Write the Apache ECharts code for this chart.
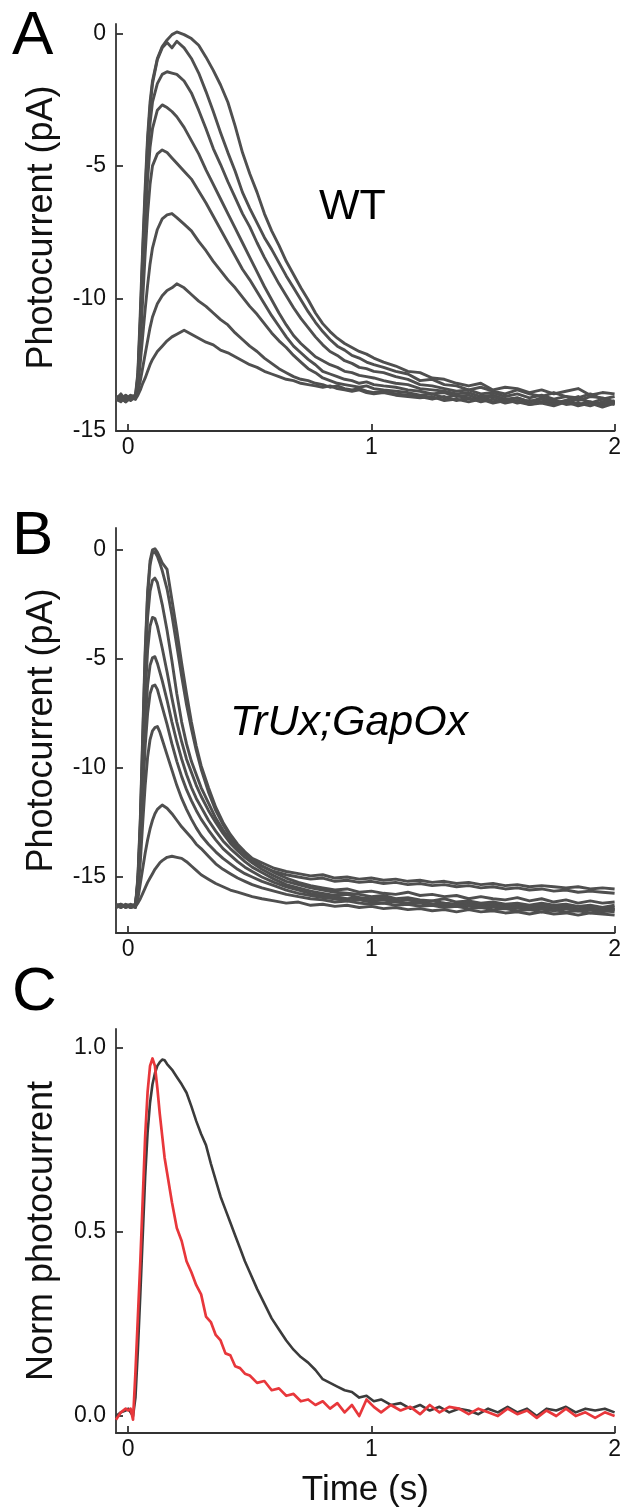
<!DOCTYPE html>
<html>
<head>
<meta charset="utf-8">
<script src="https://cdn.jsdelivr.net/npm/echarts@6/dist/echarts.min.js"></script>
<style>
  html, body { margin: 0; padding: 0; background: #fff; }
  #chart { width: 624px; height: 1510px; }
</style>
</head>
<body>
<div id="chart"></div>
<script>
// ---- panel A: WT photocurrents (pA) ----
const timeA = [-0.05,-0.03,-0.01,0.01,0.03,0.04,0.05,0.06,0.07,0.08,0.09,0.10,0.12,0.14,0.16,0.18,0.20,
  0.23,0.26,0.29,0.32,0.35,0.38,0.41,0.44,0.47,0.50,0.53,0.56,0.59,0.62,0.65,0.68,0.71,0.74,0.77,0.80,0.83,0.86,0.89,0.92,0.95,0.98,1.01,
  1.05,1.10,1.15,1.20,1.25,1.30,1.35,1.40,1.45,1.50,1.55,1.60,1.65,1.70,1.75,1.80,1.85,1.90,1.95,2.00];
const wt1 = [-13.8,-13.6,-13.85,-13.7,-13.65,-12.8,-10.5,-8.0,-5.8,-3.9,-2.6,-1.8,-0.95,-0.5,-0.25,-0.05,0.05,
  -0.05,-0.2,-0.45,-0.9,-1.4,-1.95,-2.6,-3.5,-4.5,-5.3,-6.0,-6.8,-7.45,-8.0,-8.6,-9.1,-9.6,-10.05,-10.55,-10.95,-11.25,-11.5,-11.7,-11.85,-12.0,-12.1,-12.25,
  -12.4,-12.55,-12.75,-12.8,-13.0,-13.05,-13.2,-13.3,-13.2,-13.45,-13.35,-13.4,-13.55,-13.45,-13.6,-13.5,-13.4,-13.65,-13.55,-13.6];
const wt2 = [-13.7,-13.8,-13.65,-13.8,-13.7,-12.9,-10.8,-8.3,-6.1,-4.1,-2.8,-1.9,-1.0,-0.55,-0.35,-0.55,-0.3,
  -0.55,-0.95,-1.5,-2.2,-2.95,-3.75,-4.5,-5.2,-6.0,-6.6,-7.15,-7.7,-8.15,-8.65,-9.15,-9.6,-10.05,-10.5,-10.9,-11.25,-11.55,-11.8,-11.95,-12.15,-12.25,-12.4,-12.5,
  -12.6,-12.75,-12.85,-13.1,-13.05,-13.25,-13.3,-13.45,-13.35,-13.5,-13.6,-13.45,-13.6,-13.7,-13.55,-13.7,-13.75,-13.6,-13.8,-13.7];
const wt3 = [-13.75,-13.7,-13.8,-13.65,-13.75,-13.0,-11.0,-8.6,-6.5,-4.7,-3.4,-2.6,-1.9,-1.55,-1.45,-1.5,-1.55,
  -1.8,-2.25,-2.9,-3.6,-4.35,-4.95,-5.6,-6.2,-6.8,-7.3,-7.9,-8.45,-8.95,-9.45,-9.9,-10.35,-10.75,-11.1,-11.45,-11.75,-12.0,-12.15,-12.35,-12.45,-12.6,-12.65,-12.75,
  -12.8,-12.95,-13.05,-13.25,-13.3,-13.4,-13.5,-13.45,-13.6,-13.55,-13.7,-13.6,-13.75,-13.65,-13.8,-13.7,-13.85,-13.7,-13.75,-13.9];
const wt4 = [-13.8,-13.9,-13.7,-13.75,-13.8,-13.1,-11.3,-9.2,-7.2,-5.5,-4.3,-3.6,-2.9,-2.7,-2.8,-2.95,-3.15,
  -3.55,-4.05,-4.55,-5.15,-5.7,-6.25,-6.8,-7.35,-7.9,-8.45,-9.0,-9.55,-10.05,-10.55,-11.0,-11.4,-11.7,-11.95,-12.2,-12.35,-12.5,-12.6,-12.75,-12.8,-12.9,-12.95,-13.0,
  -13.1,-13.2,-13.25,-13.4,-13.45,-13.5,-13.6,-13.55,-13.7,-13.65,-13.8,-13.75,-13.9,-13.75,-13.85,-13.95,-13.8,-13.9,-14.0,-13.85];
const wt5 = [-13.7,-13.75,-13.9,-13.7,-13.75,-13.2,-11.8,-10.0,-8.3,-6.8,-5.7,-5.0,-4.55,-4.4,-4.5,-4.7,-4.9,
  -5.2,-5.5,-5.95,-6.4,-6.9,-7.4,-7.9,-8.4,-8.9,-9.3,-9.75,-10.2,-10.65,-11.05,-11.45,-11.8,-12.05,-12.3,-12.5,-12.75,-12.85,-12.95,-13.05,-13.1,-13.2,-13.15,-13.25,
  -13.3,-13.35,-13.45,-13.5,-13.6,-13.55,-13.7,-13.65,-13.8,-13.7,-13.85,-13.75,-13.9,-13.8,-13.95,-13.85,-13.7,-13.95,-13.8,-13.95];
const wt6 = [-13.85,-13.7,-13.75,-13.85,-13.7,-13.3,-12.4,-11.4,-10.4,-9.5,-8.7,-8.1,-7.4,-7.0,-6.85,-6.8,-6.95,
  -7.2,-7.45,-7.85,-8.2,-8.6,-8.95,-9.3,-9.6,-9.95,-10.3,-10.6,-10.95,-11.3,-11.6,-11.85,-12.15,-12.4,-12.65,-12.8,-13.0,-13.1,-13.2,-13.25,-13.3,-13.35,-13.3,-13.4,
  -13.45,-13.5,-13.55,-13.65,-13.6,-13.75,-13.65,-13.8,-13.75,-13.9,-13.8,-13.95,-13.85,-13.9,-14.0,-13.85,-14.0,-13.9,-14.05,-13.9];
const wt7 = [-13.7,-13.85,-13.7,-13.8,-13.75,-13.5,-13.1,-12.6,-12.1,-11.6,-11.1,-10.7,-10.2,-9.9,-9.7,-9.6,-9.45,
  -9.6,-9.85,-10.1,-10.3,-10.55,-10.8,-11.0,-11.3,-11.55,-11.8,-12.0,-12.25,-12.45,-12.65,-12.8,-12.95,-13.05,-13.1,-13.2,-13.25,-13.35,-13.3,-13.4,-13.45,-13.4,-13.5,-13.55,
  -13.5,-13.6,-13.65,-13.7,-13.8,-13.7,-13.85,-13.75,-13.9,-13.8,-13.95,-13.85,-14.0,-13.9,-13.85,-14.0,-13.95,-14.05,-13.9,-14.0];
const wt8 = [-13.8,-13.75,-13.9,-13.75,-13.8,-13.65,-13.45,-13.2,-13.0,-12.75,-12.5,-12.3,-12.0,-11.8,-11.6,-11.45,-11.35,
  -11.2,-11.35,-11.5,-11.65,-11.75,-11.95,-12.05,-12.2,-12.35,-12.5,-12.6,-12.75,-12.85,-12.95,-13.05,-13.1,-13.2,-13.25,-13.3,-13.35,-13.3,-13.4,-13.45,-13.5,-13.45,-13.55,-13.6,
  -13.55,-13.65,-13.7,-13.75,-13.7,-13.85,-13.8,-13.9,-13.8,-13.95,-13.85,-13.9,-14.0,-13.95,-14.05,-13.9,-14.05,-13.95,-14.1,-13.95];

// ---- panel B: TrUx;GapOx photocurrents (pA) ----
const timeB = [-0.05,-0.03,-0.01,0.01,0.03,0.04,0.05,0.06,0.07,0.08,0.09,0.10,0.11,0.12,0.13,0.14,
  0.16,0.18,0.20,0.22,0.24,0.26,0.28,0.30,0.33,0.36,0.39,0.42,0.45,0.48,0.51,
  0.55,0.60,0.65,0.70,0.75,0.80,0.85,0.90,0.95,1.00,
  1.05,1.10,1.15,1.20,1.25,1.30,1.35,1.40,1.45,1.50,1.55,1.60,1.65,1.70,1.75,1.80,1.85,1.90,1.95,2.00];
const tg1 = [-16.25,-16.35,-16.3,-16.4,-16.3,-15.0,-12.3,-8.4,-4.6,-1.9,-0.5,0.0,0.05,-0.1,-0.35,-0.6,
  -0.9,-2.3,-3.7,-5.2,-6.6,-7.9,-9.0,-9.9,-10.9,-11.8,-12.5,-13.05,-13.5,-13.85,-14.15,
  -14.35,-14.6,-14.75,-14.85,-14.95,-14.9,-15.05,-15.0,-15.1,-15.05,
  -15.15,-15.1,-15.2,-15.15,-15.25,-15.2,-15.3,-15.25,-15.35,-15.3,-15.4,-15.35,-15.45,-15.4,-15.45,-15.5,-15.45,-15.55,-15.5,-15.55];
const tg2 = [-16.35,-16.25,-16.4,-16.3,-16.35,-15.1,-12.5,-8.7,-4.9,-2.1,-0.7,-0.15,-0.1,-0.3,-0.6,-0.95,
  -1.8,-3.0,-4.4,-5.8,-7.1,-8.2,-9.2,-10.05,-11.1,-11.95,-12.6,-13.15,-13.6,-13.95,-14.25,
  -14.5,-14.75,-14.9,-15.0,-15.1,-15.05,-15.2,-15.15,-15.25,-15.2,
  -15.3,-15.25,-15.35,-15.3,-15.4,-15.35,-15.45,-15.4,-15.5,-15.45,-15.55,-15.5,-15.6,-15.55,-15.65,-15.6,-15.7,-15.65,-15.7,-15.75];
const tg3 = [-16.3,-16.4,-16.25,-16.35,-16.3,-15.2,-12.8,-9.2,-5.6,-3.1,-1.9,-1.4,-1.3,-1.5,-2.0,-2.5,
  -3.7,-5.1,-6.6,-7.9,-8.9,-9.7,-10.3,-10.9,-11.6,-12.3,-12.85,-13.3,-13.65,-13.95,-14.2,
  -14.5,-14.8,-15.05,-15.25,-15.4,-15.5,-15.6,-15.55,-15.7,-15.65,
  -15.75,-15.8,-15.7,-15.85,-15.8,-15.9,-15.85,-16.0,-15.9,-16.0,-16.05,-15.95,-16.1,-16.0,-16.15,-16.05,-16.2,-16.1,-16.2,-16.15];
const tg4 = [-16.4,-16.3,-16.35,-16.25,-16.4,-15.3,-13.0,-9.8,-6.7,-4.6,-3.5,-3.1,-3.15,-3.5,-4.0,-4.5,
  -5.6,-6.8,-7.9,-8.8,-9.6,-10.2,-10.8,-11.3,-11.95,-12.5,-13.0,-13.45,-13.8,-14.1,-14.35,
  -14.65,-14.95,-15.2,-15.35,-15.5,-15.6,-15.7,-15.75,-15.8,-15.9,
  -15.85,-16.0,-15.95,-16.05,-16.1,-16.0,-16.15,-16.1,-16.2,-16.15,-16.25,-16.2,-16.3,-16.2,-16.3,-16.25,-16.35,-16.3,-16.4,-16.3];
const tg5 = [-16.3,-16.25,-16.4,-16.3,-16.25,-15.4,-13.4,-10.6,-8.0,-6.2,-5.3,-4.95,-4.9,-5.2,-5.6,-6.0,
  -6.9,-7.9,-8.8,-9.6,-10.3,-10.9,-11.4,-11.8,-12.4,-12.9,-13.35,-13.7,-14.0,-14.3,-14.55,
  -14.8,-15.1,-15.35,-15.5,-15.65,-15.75,-15.85,-15.8,-15.95,-16.0,
  -15.95,-16.1,-16.05,-16.15,-16.1,-16.2,-16.25,-16.15,-16.3,-16.25,-16.35,-16.3,-16.4,-16.3,-16.4,-16.35,-16.45,-16.35,-16.45,-16.4];
const tg6 = [-16.35,-16.3,-16.3,-16.4,-16.3,-15.5,-13.8,-11.3,-9.0,-7.5,-6.6,-6.25,-6.2,-6.4,-6.8,-7.2,
  -8.0,-8.9,-9.7,-10.4,-11.0,-11.5,-11.95,-12.35,-12.85,-13.3,-13.7,-14.0,-14.3,-14.55,-14.75,
  -15.0,-15.25,-15.45,-15.6,-15.75,-15.85,-15.9,-16.0,-15.95,-16.1,
  -16.05,-16.15,-16.2,-16.1,-16.25,-16.2,-16.3,-16.25,-16.35,-16.3,-16.4,-16.35,-16.45,-16.4,-16.5,-16.4,-16.5,-16.45,-16.55,-16.45];
const tg7 = [-16.3,-16.4,-16.3,-16.3,-16.35,-15.6,-14.3,-12.5,-10.8,-9.5,-8.7,-8.3,-8.15,-8.1,-8.35,-8.7,
  -9.4,-10.1,-10.8,-11.4,-11.9,-12.35,-12.75,-13.1,-13.5,-13.85,-14.15,-14.4,-14.65,-14.85,-15.0,
  -15.2,-15.4,-15.6,-15.75,-15.85,-15.95,-16.0,-16.1,-16.05,-16.15,
  -16.2,-16.1,-16.25,-16.2,-16.3,-16.25,-16.35,-16.3,-16.4,-16.35,-16.45,-16.4,-16.5,-16.45,-16.55,-16.45,-16.55,-16.5,-16.6,-16.5];
const tg8 = [-16.4,-16.3,-16.35,-16.3,-16.4,-16.0,-15.3,-14.6,-13.9,-13.3,-12.8,-12.4,-12.1,-11.9,-11.8,-11.7,
  -11.85,-12.1,-12.4,-12.7,-12.95,-13.2,-13.5,-13.7,-14.05,-14.4,-14.65,-14.85,-15.05,-15.2,-15.35,
  -15.5,-15.65,-15.8,-15.9,-16.0,-16.05,-16.15,-16.1,-16.2,-16.25,
  -16.2,-16.3,-16.25,-16.35,-16.3,-16.4,-16.35,-16.45,-16.4,-16.5,-16.45,-16.55,-16.5,-16.6,-16.5,-16.6,-16.55,-16.65,-16.55,-16.6];
const tg9 = [-16.3,-16.35,-16.3,-16.4,-16.35,-16.2,-16.0,-15.75,-15.5,-15.25,-15.05,-14.85,-14.65,-14.5,-14.35,-14.25,
  -14.1,-14.05,-14.1,-14.15,-14.3,-14.5,-14.7,-14.9,-15.1,-15.3,-15.45,-15.6,-15.7,-15.8,-15.9,
  -16.0,-16.1,-16.2,-16.15,-16.3,-16.25,-16.35,-16.3,-16.4,-16.35,
  -16.45,-16.4,-16.5,-16.45,-16.55,-16.5,-16.6,-16.5,-16.6,-16.55,-16.65,-16.6,-16.7,-16.6,-16.7,-16.65,-16.75,-16.65,-16.7,-16.75];

// ---- panel C: normalised responses ----
const timeC = [-0.05,-0.03,-0.01,0.00,0.01,0.02,0.03,0.04,0.05,0.06,0.07,0.08,0.09,0.10,0.11,0.12,0.13,0.14,0.15,0.16,
  0.18,0.20,0.22,0.24,0.26,0.28,0.30,0.32,0.34,0.36,0.38,0.40,0.42,0.44,0.46,0.48,0.50,
  0.53,0.56,0.59,0.62,0.65,0.68,0.71,0.74,0.77,0.80,0.83,0.86,0.89,0.92,0.95,0.98,1.01,
  1.04,1.08,1.12,1.16,1.20,1.24,1.28,1.32,1.36,1.40,1.44,1.48,1.52,1.56,1.60,1.64,1.68,1.72,1.76,1.80,1.84,1.88,1.92,1.96,2.00];
const normWT = [0.0,0.01,0.015,0.02,0.01,0.0,0.05,0.18,0.33,0.49,0.65,0.77,0.85,0.9,0.93,0.95,0.96,0.967,0.965,0.955,
  0.94,0.92,0.9,0.877,0.84,0.8,0.765,0.735,0.685,0.64,0.595,0.56,0.525,0.49,0.455,0.42,0.39,
  0.345,0.305,0.265,0.235,0.205,0.18,0.16,0.145,0.125,0.1,0.09,0.08,0.07,0.065,0.05,0.055,0.04,
  0.045,0.03,0.035,0.02,0.03,0.015,0.025,0.01,0.02,0.015,0.005,0.02,0.01,0.025,0.01,0.02,0.0,0.02,0.015,0.025,0.01,0.02,0.015,0.02,0.01];
const normTrUx = [-0.01,0.01,0.02,0.015,0.02,-0.01,0.12,0.27,0.42,0.59,0.76,0.88,0.95,0.97,0.95,0.89,0.82,0.76,0.7,0.66,
  0.58,0.51,0.475,0.42,0.39,0.355,0.33,0.27,0.255,0.22,0.205,0.17,0.165,0.135,0.13,0.115,0.11,
  0.09,0.095,0.07,0.075,0.055,0.06,0.04,0.045,0.03,0.04,0.02,0.035,0.01,0.03,0.0,0.045,0.025,
  0.01,0.03,0.015,0.025,0.005,0.03,0.01,0.025,0.02,0.005,0.02,0.01,0.0,0.02,0.005,0.015,-0.005,0.015,0.0,0.02,0.0,0.01,-0.005,0.01,0.0];

// ---- ticks ----
const timeTicks = [0, 1, 2];
const pATicks = [-15, -10, -5, 0];
const normTicks = [0, 0.5, 1];

const FONT = '"Liberation Sans", Arial, sans-serif';
const AXIS = '#333';
const TRACE = '#4f4f4f';

function pairs(t, v) {
  return t.map((x, i) => [x, v[i]]);
}

function xAxisOf(idx, name) {
  return {
    type: 'value', gridIndex: idx, min: -0.05, max: 2,
    name: name || '', nameLocation: 'middle', nameGap: 40,
    nameTextStyle: { fontSize: 35, color: '#111', fontFamily: FONT },
    axisLine: { show: true, onZero: false, lineStyle: { color: AXIS, width: 1.8 } },
    axisTick: { show: true, inside: true, length: 7, customValues: timeTicks, lineStyle: { color: AXIS, width: 1.8 } },
    axisLabel: { customValues: timeTicks, fontSize: 23, color: '#111', margin: 5, fontFamily: FONT },
    splitLine: { show: false }
  };
}

function yAxisOf(idx, min, max, ticks, name, fmt) {
  return {
    type: 'value', gridIndex: idx, min: min, max: max,
    name: name, nameLocation: 'middle', nameGap: 56, nameRotate: 90,
    nameTextStyle: { fontSize: 36, color: '#111', fontFamily: FONT },
    axisLine: { show: true, onZero: false, lineStyle: { color: AXIS, width: 1.8 } },
    axisTick: { show: true, inside: true, length: 7, customValues: ticks, lineStyle: { color: AXIS, width: 1.8 } },
    axisLabel: { customValues: ticks, fontSize: 23, color: '#111', margin: 10, fontFamily: FONT, formatter: fmt },
    splitLine: { show: false }
  };
}

function trace(idx, t, v, color, width) {
  return {
    type: 'line', xAxisIndex: idx, yAxisIndex: idx,
    data: pairs(t, v), showSymbol: false, symbol: 'none',
    lineStyle: { color: color, width: width, join: 'round' }, silent: true
  };
}

const chart = echarts.init(document.getElementById('chart'), null, { renderer: 'canvas' });

const series = [];
[wt1, wt2, wt3, wt4, wt5, wt6, wt7, wt8].forEach(v => series.push(trace(0, timeA, v, TRACE, 2.9)));
[tg1, tg2, tg3, tg4, tg5, tg6, tg7, tg8, tg9].forEach(v => series.push(trace(1, timeB, v, TRACE, 2.9)));
series.push(trace(2, timeC, normWT, '#3b3b3b', 2.6));
series.push(trace(2, timeC, normTrUx, '#e8373b', 2.7));

const option = {
  animation: false,
  backgroundColor: '#fff',
  grid: [
    { left: 116, width: 502, top: 24, height: 407 },
    { left: 116, width: 502, top: 528, height: 405 },
    { left: 116, width: 502, top: 1029, height: 404 }
  ],
  xAxis: [xAxisOf(0), xAxisOf(1), xAxisOf(2, 'Time (s)')],
  yAxis: [
    yAxisOf(0, -15, 0.35, pATicks, 'Photocurrent (pA)', v => String(v)),
    yAxisOf(1, -17.57, 1.0, pATicks, 'Photocurrent (pA)', v => String(v)),
    yAxisOf(2, -0.046, 1.05, normTicks, 'Norm photocurrent', v => v.toFixed(1))
  ],
  graphic: [
    { type: 'text', left: 12, top: 6, style: { text: 'A', font: '62px ' + FONT, fill: '#000' } },
    { type: 'text', left: 12, top: 506, style: { text: 'B', font: '62px ' + FONT, fill: '#000' } },
    { type: 'text', left: 12, top: 962, style: { text: 'C', font: '62px ' + FONT, fill: '#000' } },
    { type: 'text', left: 319, top: 186, style: { text: 'WT', font: '43px ' + FONT, fill: '#000' } },
    { type: 'text', left: 230, top: 702, style: { text: 'TrUx;GapOx', font: 'italic 43px ' + FONT, fill: '#000' } }
  ],
  series: series
};

chart.setOption(option);
</script>
</body>
</html>
